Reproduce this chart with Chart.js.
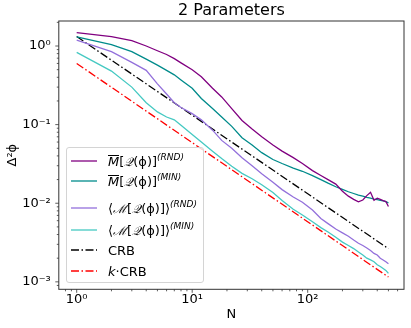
<!DOCTYPE html>
<html>
<head>
<meta charset="utf-8">
<script src="https://cdn.jsdelivr.net/npm/chart.js@4.4.0/dist/chart.umd.min.js"></script>
<style>
  body { margin: 0; background: #fff; }
  #wrap { position: relative; width: 411px; height: 328px; }
  #legend {
    position: absolute; left: 66px; top: 147px; width: 138px; height: 136px;
    box-sizing: border-box; border: 1px solid #d4d4d4; border-radius: 3px;
    background: rgba(255, 255, 255, 0.8);
    font-family: "DejaVu Sans"; font-size: 13px; color: #000;
  }
  .row { position: absolute; left: 0; height: 20px; display: flex; align-items: center; white-space: nowrap; }
  .row svg { margin-left: 4px; margin-right: 11px; flex: none; }
  .ov { display: inline-block; border-top: 1px solid #000; line-height: 0.95; }
  .cal { font-family: "DejaVu Serif"; font-style: italic; font-size: 12px; }
  .sup { font-size: 9px; font-style: italic; position: relative; top: -6px; }
</style>
</head>
<body>
<div id="wrap">
  <canvas id="myChart" width="411" height="328"></canvas>
  <div id="legend"></div>
</div>
<script>
// N values shared by the four simulated curves
const nValues = [1, 2, 3, 4, 5, 6, 7, 8, 10, 12, 15, 18, 22, 27, 33, 40, 50, 60, 75, 90, 110, 130, 150, 175,
  200, 225, 250, 275, 300, 325, 350, 375, 400, 425, 450, 475, 500];

const mBarRnd = [1.48, 1.32, 1.17, 1.0, 0.87, 0.78, 0.69, 0.61, 0.5, 0.407, 0.29, 0.225, 0.16, 0.113, 0.088, 0.07,
  0.055, 0.046, 0.038, 0.032, 0.026, 0.0225, 0.02, 0.0175, 0.0142, 0.0123, 0.0112, 0.0104, 0.011, 0.0125, 0.0138,
  0.0109, 0.0116, 0.0112, 0.0108, 0.0105, 0.0091];

const mBarMin = [1.31, 1.04, 0.85, 0.68, 0.57, 0.49, 0.43, 0.37, 0.29, 0.215, 0.16, 0.125, 0.095, 0.068, 0.055, 0.044,
  0.036, 0.032, 0.028, 0.0255, 0.0225, 0.02, 0.018, 0.0162, 0.015, 0.014, 0.0133, 0.0127, 0.0123, 0.0119, 0.0116,
  0.0113, 0.0111, 0.0109, 0.0107, 0.0105, 0.0101];

const mAvgRnd = [1.19, 0.85, 0.62, 0.49, 0.33, 0.245, 0.19, 0.165, 0.138, 0.115, 0.085, 0.063, 0.05, 0.038, 0.03,
  0.0237, 0.0185, 0.0149, 0.012, 0.0103, 0.0082, 0.0064, 0.0055, 0.0047, 0.0042, 0.0038, 0.0034, 0.0031, 0.0029,
  0.0027, 0.0025, 0.0023, 0.0022, 0.002, 0.0019, 0.0018, 0.0017];

const mAvgMin = [0.83, 0.48, 0.3, 0.19, 0.145, 0.125, 0.115, 0.098, 0.075, 0.06, 0.046, 0.037, 0.0295, 0.024, 0.0205,
  0.0172, 0.0137, 0.0108, 0.0084, 0.0071, 0.0058, 0.0049, 0.0043, 0.0037, 0.0032, 0.0029, 0.00265, 0.0024, 0.0022,
  0.002, 0.0019, 0.0018, 0.00165, 0.00157, 0.00148, 0.0014, 0.00128];

// the two bounds are straight lines on log-log axes
const boundN = [1, 500];
const crb = [1.32, 0.00264];
const kCrb = [0.6, 0.00115];

const xTickVals = [1, 10, 100];
const xTickText = ["10\u2070", "10\u00b9", "10\u00b2"];
const yTickVals = [0.001, 0.01, 0.1, 1];
const yTickText = ["10\u207b\u00b3", "10\u207b\u00b2", "10\u207b\u00b9", "10\u2070"];

const xMin = 0.733, xMax = 682;
const yMin = 0.000804, yMax = 2.08;

function minorTicks(lo, hi) {
  const out = [];
  for (let d = 1e-4; d < 1e4; d *= 10) {
    for (let m = 1; m < 10; m++) {
      const v = +(m * d).toPrecision(6);
      if (v >= lo && v <= hi) out.push(v);
    }
  }
  return out;
}

function pairs(xs, ys) {
  return xs.map((x, i) => ({ x: x, y: ys[i] }));
}

const series = [
  { label: "mbar-rnd", data: pairs(nValues, mBarRnd), color: "#800080", dash: [] },
  { label: "mbar-min", data: pairs(nValues, mBarMin), color: "#008b8b", dash: [] },
  { label: "mavg-rnd", data: pairs(nValues, mAvgRnd), color: "#9370db", dash: [] },
  { label: "mavg-min", data: pairs(nValues, mAvgMin), color: "#45c9c2", dash: [] },
  { label: "CRB", data: pairs(boundN, crb), color: "#000000", dash: [8, 2.5, 1.5, 2.5] },
  { label: "kCRB", data: pairs(boundN, kCrb), color: "#ff0000", dash: [8, 2.5, 1.5, 2.5] },
];

const legendHtml = [
  '<span class="ov"><i>M</i></span>[<span class="cal">\u{1D4AC}</span>(\u03d5)]<span class="sup">(RND)</span>',
  '<span class="ov"><i>M</i></span>[<span class="cal">\u{1D4AC}</span>(\u03d5)]<span class="sup">(MIN)</span>',
  '\u27e8<span class="cal">\u2133</span>[<span class="cal">\u{1D4AC}</span>(\u03d5)]\u27e9<span class="sup">(RND)</span>',
  '\u27e8<span class="cal">\u2133</span>[<span class="cal">\u{1D4AC}</span>(\u03d5)]\u27e9<span class="sup">(MIN)</span>',
  'CRB',
  '<i>k</i>\u00b7CRB',
];
const legendRowCenters = [13, 33, 60, 82, 102, 123];

const frame = {
  id: "frame",
  afterDraw(c) {
    const { ctx, chartArea: a } = c;
    const sx = c.scales.x, sy = c.scales.y;
    ctx.save();
    ctx.strokeStyle = "#333";
    ctx.lineWidth = 1;
    ctx.strokeRect(a.left, a.top, a.right - a.left, a.bottom - a.top);
    ctx.beginPath();
    sx.ticks.forEach((t) => {
      const p = sx.getPixelForValue(t.value);
      const len = xTickVals.includes(t.value) ? 3.5 : 2;
      ctx.moveTo(p, a.bottom);
      ctx.lineTo(p, a.bottom + len);
    });
    sy.ticks.forEach((t) => {
      const p = sy.getPixelForValue(t.value);
      const len = yTickVals.includes(t.value) ? 3.5 : 2;
      ctx.moveTo(a.left, p);
      ctx.lineTo(a.left - len, p);
    });
    ctx.lineWidth = 0.8;
    ctx.stroke();
    ctx.restore();
  },
};

const font13 = { family: "DejaVu Sans", size: 13 };

const ctx = document.getElementById("myChart").getContext("2d");
const chart = new Chart(ctx, {
  type: "scatter",
  data: {
    datasets: series.map((s) => ({
      label: s.label,
      data: s.data,
      showLine: true,
      borderColor: s.color,
      backgroundColor: s.color,
      borderWidth: 1.3,
      borderDash: s.dash,
      pointRadius: 0,
      tension: 0,
    })),
  },
  options: {
    responsive: false,
    animation: false,
    devicePixelRatio: 1,
    layout: { padding: { top: 0, right: 7, left: 0, bottom: 0 } },
    plugins: {
      legend: { display: false },
      tooltip: { enabled: false },
      title: {
        display: true,
        text: "2 Parameters",
        fullSize: false,
        color: "#000",
        font: { family: "DejaVu Sans", size: 16, weight: "normal", lineHeight: 1.1 },
        padding: { top: 2, bottom: 1.4 },
      },
    },
    scales: {
      x: {
        type: "logarithmic",
        min: xMin,
        max: xMax,
        grid: { display: false, drawTicks: false },
        border: { display: false },
        afterBuildTicks: (s) => {
          s.ticks = minorTicks(xMin, xMax).map((v) => ({ value: v }));
        },
        afterFit: (s) => { s.height = 38.7; },
        ticks: {
          autoSkip: false,
          maxRotation: 0,
          padding: 3,
          color: "#000",
          font: font13,
          callback: (v) => {
            const i = xTickVals.indexOf(v);
            return i >= 0 ? xTickText[i] : "";
          },
        },
        title: { display: true, text: "N", color: "#000", font: font13, padding: { top: 0, bottom: 6 } },
      },
      y: {
        type: "logarithmic",
        min: yMin,
        max: yMax,
        grid: { display: false, drawTicks: false },
        border: { display: false },
        afterBuildTicks: (s) => {
          s.ticks = minorTicks(yMin, yMax).map((v) => ({ value: v }));
        },
        afterFit: (s) => { s.width = 58.8; },
        ticks: {
          autoSkip: false,
          padding: 8,
          color: "#000",
          font: font13,
          callback: (v) => {
            const i = yTickVals.indexOf(v);
            return i >= 0 ? yTickText[i] : "";
          },
        },
        title: { display: true, text: "\u0394\u00b2\u03d5", color: "#000", font: font13, padding: { top: 5, bottom: 0 } },
      },
    },
  },
  plugins: [frame],
});

// legend drawn as html so the math labels stay readable text
const legendBox = document.getElementById("legend");
series.forEach((s, i) => {
  const row = document.createElement("div");
  row.className = "row";
  row.style.top = legendRowCenters[i] - 10 + "px";
  const dash = s.dash.length ? ' stroke-dasharray="' + s.dash.join(" ") + '"' : "";
  row.innerHTML =
    '<svg width="26" height="4"><line x1="0" y1="2" x2="26" y2="2" stroke="' + s.color +
    '" stroke-width="1.3"' + dash + "/></svg><span>" + legendHtml[i] + "</span>";
  legendBox.appendChild(row);
});
</script>
</body>
</html>
